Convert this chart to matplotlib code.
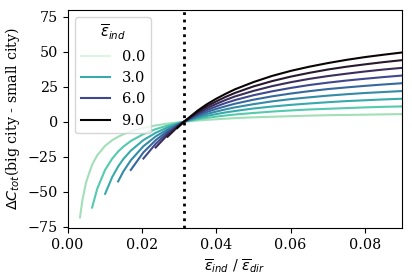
import numpy as np
import matplotlib
matplotlib.use("Agg")
import matplotlib.pyplot as plt
import seaborn as sns

# values
eps_ind = [0, 1, 2, 3, 4, 5, 6, 7, 8, 9]
x_grid = [0.00335, 0.004, 0.005, 0.0066, 0.008, 0.0101, 0.012, 0.0136, 0.015, 0.017,
          0.0204, 0.0237, 0.0269, 0.0295, 0.0313, 0.035, 0.0375, 0.04, 0.0425, 0.045,
          0.05, 0.055, 0.06, 0.065, 0.07, 0.075, 0.08, 0.085, 0.09]
start_idx = [None, 0, 3, 5, 7, 9, 10, 11, 12, 13]

dc_1 = [-68.4, -56.0, -43.1, -30.7, -23.9, -17.2, -13.2, -10.7, -8.9, -6.9, -4.4, -2.6,
        -1.3, -0.5, 0,
        0.9, 1.4, 1.8, 2.2, 2.6, 3.2, 3.6, 4.0, 4.4, 4.7, 4.9, 5.1, 5.3, 5.5]
dc_2 = [-61.4, -47.8, -34.4, -26.4, -21.3, -17.8, -13.8, -8.8, -5.3, -2.7, -1.0, 0,
        1.8, 2.8, 3.7, 4.5, 5.2, 6.3, 7.3, 8.1, 8.8, 9.3, 9.8, 10.3, 10.7, 11.0]
dc_3 = [-51.6, -39.6, -32.0, -26.7, -20.7, -13.1, -7.9, -4.0, -1.5, 0,
        2.7, 4.2, 5.5, 6.7, 7.7, 9.5, 10.9, 12.1, 13.1, 14.0, 14.8, 15.4, 16.0, 16.5]
dc_4 = [-42.7, -35.6, -27.6, -17.5, -10.5, -5.4, -2.0, 0,
        3.6, 5.6, 7.3, 8.9, 10.3, 12.6, 14.6, 16.2, 17.5, 18.7, 19.7, 20.6, 21.3, 22.0]
dc_5 = [-34.5, -21.9, -13.2, -6.7, -2.5, 0,
        4.5, 7.0, 9.2, 11.1, 12.9, 15.8, 18.2, 20.2, 21.9, 23.4, 24.6, 25.7, 26.7, 27.6]
dc_6 = [-26.3, -15.8, -8.0, -3.0, 0,
        5.3, 8.4, 11.0, 13.4, 15.5, 19.0, 21.8, 24.2, 26.3, 28.0, 29.5, 30.8, 32.0, 33.1]
dc_7 = [-18.4, -9.4, -3.5, 0,
        6.2, 9.8, 12.8, 15.6, 18.1, 22.1, 25.5, 28.3, 30.7, 32.7, 34.4, 36.0, 37.4, 38.6]
dc_8 = [-10.7, -4.0, 0,
        7.1, 11.2, 14.6, 17.8, 20.6, 25.3, 29.1, 32.3, 35.0, 37.4, 39.4, 41.1, 42.7, 44.1]
dc_9 = [-4.5, 0,
        8.0, 12.6, 16.5, 20.0, 23.2, 28.4, 32.8, 36.4, 39.4, 42.0, 44.3, 46.3, 48.0, 49.6]
dc_lines = [[], dc_1, dc_2, dc_3, dc_4, dc_5, dc_6, dc_7, dc_8, dc_9]

x_cross = 0.0313
legend_levels = [0, 3, 6, 9]

plt.rcParams['font.family'] = 'serif'
plt.rcParams['font.size'] = 10.3

cmap = sns.color_palette("mako_r", as_cmap=True)

fig = plt.figure(figsize=(4.12, 2.78), dpi=100)
ax = fig.add_axes([0.164, 0.18, 0.812, 0.784])

handles = {}
for k, ys in zip(eps_ind, dc_lines):
    c = cmap(k / max(eps_ind))
    xs = x_grid[start_idx[k]:] if start_idx[k] is not None else []
    ln, = ax.plot(xs, ys, color=c, lw=1.5)
    handles[k] = ln

ax.axvline(x_cross, color='black', ls=':', lw=2)

ax.set_xlim(0, 0.09)
ax.set_ylim(-76, 80)
ax.set_xticks([0.0, 0.02, 0.04, 0.06, 0.08])
ax.set_yticks([-75, -50, -25, 0, 25, 50, 75])
ax.set_xlabel(r'$\overline{\varepsilon}_{ind}$ / $\overline{\varepsilon}_{dir}$')
ax.set_ylabel(r'$\Delta C_{tot}$(big city - small city)')

ax.legend([handles[k] for k in legend_levels], ['%.1f' % k for k in legend_levels],
          title=r'$\overline{\varepsilon}_{ind}$', loc='upper left',
          fontsize=10.5, title_fontsize=10.5)

fig.savefig('out.png', dpi=100)
